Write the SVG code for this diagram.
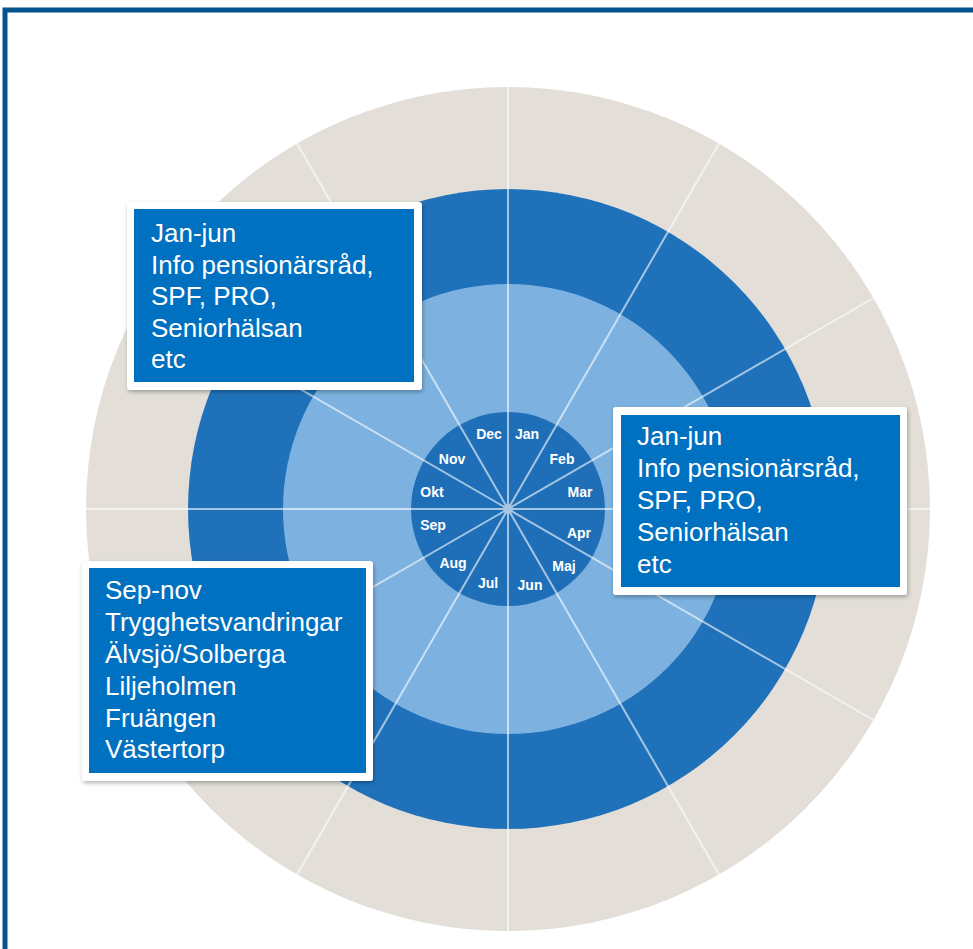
<svg xmlns="http://www.w3.org/2000/svg" width="973" height="949" viewBox="0 0 973 949">
<style>
.spoke{stroke:#ffffff;stroke-opacity:0.6;stroke-width:2}
.mon{font-family:"Liberation Sans",Arial,sans-serif;font-weight:bold;font-size:14px;fill:#ffffff;text-anchor:middle}
.card{fill:#ffffff}
.cardin{fill:#0070C0}
.txt{font-family:"Liberation Sans",Arial,sans-serif;font-size:26px;fill:#ffffff}
</style>
<defs>
<filter id="sh" x="-10%" y="-10%" width="120%" height="125%">
<feDropShadow dx="1" dy="2" stdDeviation="2" flood-color="#000" flood-opacity="0.3"/>
</filter>
</defs>
<rect x="0" y="0" width="973" height="949" fill="#ffffff"/>
<path d="M5,949 L5,10 L973,10" fill="none" stroke="#04558F" stroke-width="5"/>
<g id="wheel">
<circle cx="508" cy="509" r="422" fill="#E3DFD8"/>
<circle cx="508" cy="509" r="320" fill="#1F72BA"/>
<circle cx="508" cy="509" r="225" fill="#7DB2E0"/>
<circle cx="508" cy="509" r="97" fill="#1F6FB8"/>
</g>
<g id="spokes">
<line class="spoke" x1="508" y1="509" x2="508" y2="87"/>
<line class="spoke" x1="508" y1="509" x2="719" y2="143.5"/>
<line class="spoke" x1="508" y1="509" x2="873.5" y2="298"/>
<line class="spoke" x1="508" y1="509" x2="930" y2="509"/>
<line class="spoke" x1="508" y1="509" x2="873.5" y2="720"/>
<line class="spoke" x1="508" y1="509" x2="719" y2="874.5"/>
<line class="spoke" x1="508" y1="509" x2="508" y2="931"/>
<line class="spoke" x1="508" y1="509" x2="297" y2="874.5"/>
<line class="spoke" x1="508" y1="509" x2="142.5" y2="720"/>
<line class="spoke" x1="508" y1="509" x2="86" y2="509"/>
<line class="spoke" x1="508" y1="509" x2="142.5" y2="298"/>
<line class="spoke" x1="508" y1="509" x2="297" y2="143.5"/>
<circle cx="508" cy="509" r="5" fill="#A9C6E3"/>
</g>
<g id="months">
<text class="mon" x="489" y="439">Dec</text>
<text class="mon" x="527" y="439">Jan</text>
<text class="mon" x="562" y="464">Feb</text>
<text class="mon" x="580" y="497">Mar</text>
<text class="mon" x="579" y="538">Apr</text>
<text class="mon" x="564" y="571">Maj</text>
<text class="mon" x="530" y="590">Jun</text>
<text class="mon" x="488" y="588">Jul</text>
<text class="mon" x="453" y="568">Aug</text>
<text class="mon" x="433" y="530">Sep</text>
<text class="mon" x="432" y="497">Okt</text>
<text class="mon" x="452" y="464">Nov</text>
</g>
<g id="box1">
<rect class="card" x="127" y="202" width="295" height="188" rx="3" filter="url(#sh)"/>
<rect class="cardin" x="134" y="209" width="280" height="173"/>
<text class="txt" x="151" y="242">Jan-jun</text>
<text class="txt" x="151" y="273.5">Info pensionärsråd,</text>
<text class="txt" x="151" y="305">SPF, PRO,</text>
<text class="txt" x="151" y="336.5">Seniorhälsan</text>
<text class="txt" x="151" y="368">etc</text>
</g>
<g id="box2">
<rect class="card" x="613" y="407" width="294" height="188" rx="3" filter="url(#sh)"/>
<rect class="cardin" x="621" y="415" width="279" height="172"/>
<text class="txt" x="637" y="445">Jan-jun</text>
<text class="txt" x="637" y="477">Info pensionärsråd,</text>
<text class="txt" x="637" y="509">SPF, PRO,</text>
<text class="txt" x="637" y="541">Seniorhälsan</text>
<text class="txt" x="637" y="573">etc</text>
</g>
<g id="box3">
<rect class="card" x="82" y="561" width="291" height="220" rx="3" filter="url(#sh)"/>
<rect class="cardin" x="89" y="568" width="277" height="205"/>
<text class="txt" x="105" y="599">Sep-nov</text>
<text class="txt" x="105" y="631">Trygghetsvandringar</text>
<text class="txt" x="105" y="663">Älvsjö/Solberga</text>
<text class="txt" x="105" y="695">Liljeholmen</text>
<text class="txt" x="105" y="727">Fruängen</text>
<text class="txt" x="105" y="758">Västertorp</text>
</g>
</svg>
